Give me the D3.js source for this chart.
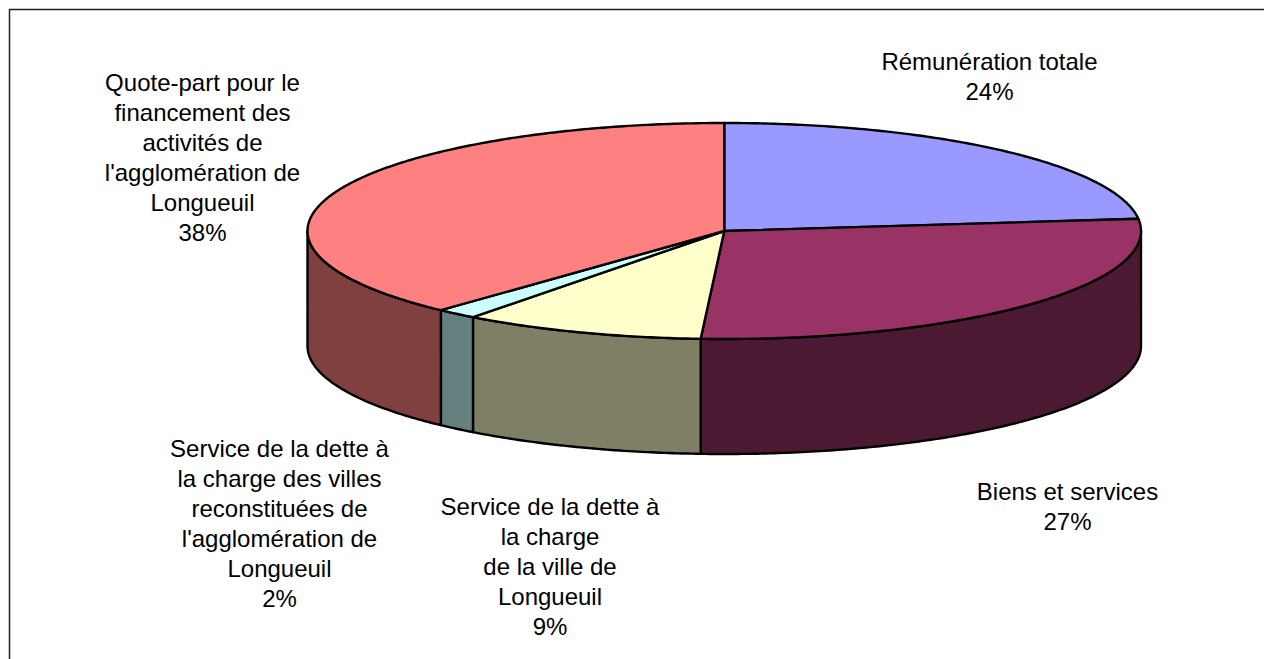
<!DOCTYPE html>
<html>
<head>
<meta charset="utf-8">
<script src="https://cdn.jsdelivr.net/npm/d3@7/dist/d3.min.js"></script>
<style>
html,body{margin:0;padding:0;background:#fff;overflow:hidden}
svg{display:block}
text{font-family:"Liberation Sans",Arial,sans-serif;font-size:24px;fill:#000}
</style>
</head>
<body>
<svg id="c" width="1264" height="659"></svg>
<script>
const categories = ["Rémunération totale","Biens et services","Service de la dette à la charge de la ville de Longueuil","Service de la dette à la charge des villes reconstituées de l'agglomération de Longueuil","Quote-part pour le financement des activités de l'agglomération de Longueuil"];
const values = [23.2,27.7,9.4,1.6,38.1];
const percentLabels = ["24%","27%","9%","2%","38%"];
const topColors = ["#9999FF","#993366","#FFFFCC","#CCFFFF","#FF8080"];
const sideColors = ["#4C4C80","#4C1933","#7F7F66","#667F7F","#804040"];
const labelLines = [
  ["Rémunération totale","24%"],
  ["Biens et services","27%"],
  ["Service de la dette à","la charge","de la ville de","Longueuil","9%"],
  ["Service de la dette à","la charge des villes","reconstituées de","l'agglomération de","Longueuil","2%"],
  ["Quote-part pour le","financement des","activités de","l'agglomération de","Longueuil","38%"]
];
const labelAnchors = [[989.5,70],[1067.5,500],[550,515],[279.5,457],[202.5,91]];
const lineHeight = 30;

const svg = d3.select("#c");
svg.append("path").attr("d","M9.5,659V9.5H1264").attr("fill","none").attr("stroke","#222").attr("stroke-width",1.5);

const sx = d3.scaleLinear().domain([-1,1]).range([307.5,1141]);
const sy = d3.scaleLinear().domain([-1,1]).range([123,339]);
const depth = 115;
const arcs = d3.pie().sort(null).value(d=>d)(values);
const px = a => sx(Math.sin(a));
const py = a => sy(-Math.cos(a));
const sample = (a0,a1) => { const n = Math.max(2,Math.ceil((a1-a0)*90)); return d3.range(n+1).map(i=>a0+(a1-a0)*i/n); };
const line = d3.line();

const front0 = Math.PI/2, front1 = Math.PI*1.5;
arcs.forEach((d,i)=>{
  const a0 = Math.max(d.startAngle,front0), a1 = Math.min(d.endAngle,front1);
  if (a1<=a0) return;
  const s = sample(a0,a1);
  const pts = s.map(a=>[px(a),py(a)]).concat(s.slice().reverse().map(a=>[px(a),py(a)+depth]));
  svg.append("path").attr("d",line(pts)+"Z").attr("fill",sideColors[i])
     .attr("stroke","#000").attr("stroke-width",2.4).attr("stroke-linejoin","round");
});
arcs.forEach((d,i)=>{
  const pts = [[sx(0),sy(0)]].concat(sample(d.startAngle,d.endAngle).map(a=>[px(a),py(a)]));
  svg.append("path").attr("d",line(pts)+"Z").attr("fill",topColors[i])
     .attr("stroke","#000").attr("stroke-width",2.4).attr("stroke-linejoin","round");
});
labelLines.forEach((lines,i)=>{
  const t = svg.append("text").attr("text-anchor","middle");
  lines.forEach((l,j)=>t.append("tspan").attr("x",labelAnchors[i][0]).attr("y",labelAnchors[i][1]+j*lineHeight).text(l));
});
</script>
</body>
</html>
